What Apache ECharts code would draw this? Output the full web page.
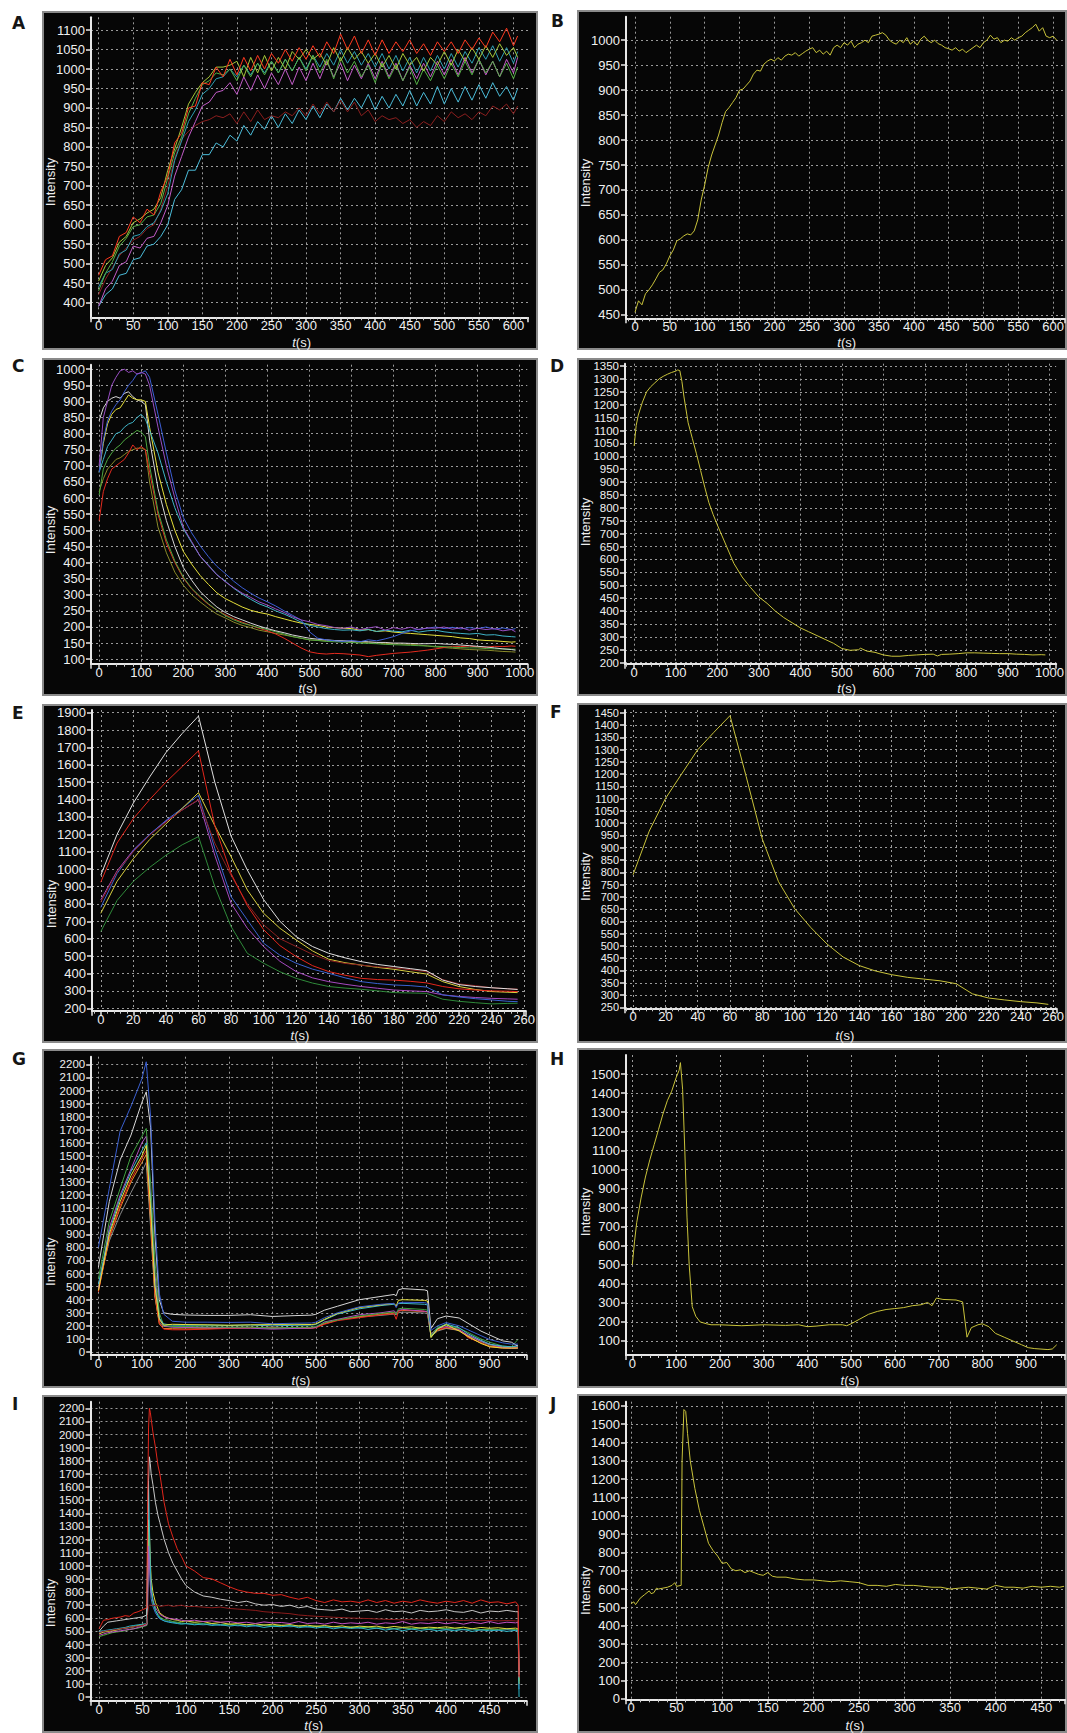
<!DOCTYPE html>
<html>
<head>
<meta charset="utf-8">
<title>Intensity traces A-J</title>
<script src="https://cdn.jsdelivr.net/npm/echarts@6/dist/echarts.min.js"></script>
<style>
  html, body { margin: 0; padding: 0; background: #fff; }
  body { position: relative; width: 1067px; height: 1733px; overflow: hidden; }
  .panel { position: absolute; background: #060606; outline: 2px solid #8a8a8a; outline-offset: -2px; }
  .tag { position: absolute; font: bold 17px "DejaVu Sans", sans-serif; line-height: 17px; color: #151515; }
</style>
</head>
<body>
<div class="tag" style="left:12px;top:15px">A</div>
<div class="tag" style="left:551px;top:13px">B</div>
<div class="tag" style="left:12px;top:358px">C</div>
<div class="tag" style="left:550px;top:358px">D</div>
<div class="tag" style="left:12px;top:705px">E</div>
<div class="tag" style="left:550px;top:704px">F</div>
<div class="tag" style="left:12px;top:1051px">G</div>
<div class="tag" style="left:550px;top:1051px">H</div>
<div class="tag" style="left:12px;top:1396px">I</div>
<div class="tag" style="left:550px;top:1396px">J</div>

<div class="panel" id="pA" style="left:42px;top:11px;width:496px;height:339px"></div>
<div class="panel" id="pB" style="left:577px;top:10px;width:490px;height:340px"></div>
<div class="panel" id="pC" style="left:42px;top:358px;width:496px;height:338px"></div>
<div class="panel" id="pD" style="left:577px;top:358px;width:490px;height:338px"></div>
<div class="panel" id="pE" style="left:42px;top:704px;width:496px;height:339px"></div>
<div class="panel" id="pF" style="left:577px;top:703px;width:490px;height:340px"></div>
<div class="panel" id="pG" style="left:42px;top:1049px;width:496px;height:339px"></div>
<div class="panel" id="pH" style="left:577px;top:1048px;width:490px;height:340px"></div>
<div class="panel" id="pI" style="left:42px;top:1395px;width:496px;height:338px"></div>
<div class="panel" id="pJ" style="left:577px;top:1394px;width:490px;height:339px"></div>

<script>
// ---- panel A: 7 rising traces, t every 10 s
const tA = [0, 10, 20, 30, 40, 50, 60, 70, 80, 90,
  100, 110, 120, 130, 140, 150, 160, 170, 180, 190,
  200, 210, 220, 230, 240, 250, 260, 270, 280, 290,
  300, 310, 320, 330, 340, 350, 360, 370, 380, 390,
  400, 410, 420, 430, 440, 450, 460, 470, 480, 490,
  500, 510, 520, 530, 540, 550, 560, 570, 580, 590,
  600, 606]
const aCyan = [390, 420, 435, 470, 475, 510, 515, 545, 550, 570,
  600, 665, 690, 740, 740, 780, 780, 810, 800, 830,
  815, 855, 830, 865, 845, 880, 850, 885, 860, 895,
  870, 905, 875, 910, 890, 925, 895, 925, 900, 935,
  895, 930, 900, 935, 905, 945, 905, 940, 910, 955,
  910, 950, 915, 955, 920, 960, 925, 965, 930, 955,
  920, 950]
const aMaroon = [420, 460, 490, 520, 540, 560, 570, 590, 600, 640,
  700, 770, 820, 840, 855, 865, 870, 880, 875, 885,
  860, 890, 865, 895, 870, 880, 875, 890, 880, 900,
  880, 910, 885, 915, 890, 920, 890, 915, 880, 895,
  865, 880, 870, 875, 860, 870, 850, 865, 855, 880,
  865, 890, 875, 885, 870, 890, 880, 905, 895, 910,
  885, 905]
const aMagenta = [390, 435, 455, 495, 505, 545, 540, 565, 570, 605,
  650, 725, 775, 825, 865, 905, 915, 940, 945, 965,
  935, 980, 945, 985, 950, 990, 960, 1000, 960, 1005,
  970, 1015, 975, 1020, 980, 1015, 970, 1010, 975, 1015,
  975, 1020, 980, 1015, 970, 1010, 975, 1015, 980, 1020,
  985, 1025, 985, 1030, 990, 1025, 985, 1020, 980, 1025,
  990, 1030]
const aTeal = [440, 475, 485, 525, 535, 570, 575, 595, 605, 635,
  680, 765, 815, 865, 895, 935, 950, 975, 980, 1000,
  980, 1010, 985, 1015, 990, 1020, 990, 1025, 995, 1030,
  1000, 1035, 1005, 1040, 1010, 1050, 1015, 1045, 1010, 1040,
  1005, 1040, 1000, 1035, 995, 1030, 990, 1030, 995, 1035,
  1000, 1040, 1005, 1045, 1015, 1055, 1025, 1060, 1020, 1055,
  1015, 1045]
const aGreen = [430, 475, 505, 545, 565, 595, 600, 620, 625, 655,
  720, 785, 825, 885, 925, 960, 970, 990, 985, 1000,
  970, 1010, 980, 1015, 985, 1020, 990, 1025, 995, 1030,
  995, 1035, 990, 1025, 975, 1030, 990, 1020, 980, 1010,
  965, 1015, 975, 1010, 970, 1005, 960, 1000, 970, 1010,
  975, 1015, 980, 1020, 985, 1025, 990, 1020, 980, 1015,
  975, 1005]
const aLime = [455, 495, 515, 555, 570, 605, 615, 630, 640, 670,
  740, 795, 850, 910, 940, 965, 980, 1005, 1005, 1010,
  1020, 980, 1030, 990, 1035, 995, 1030, 1000, 1045, 1025,
  1050, 1025, 1040, 1010, 1055, 1020, 1055, 1025, 1045, 1015,
  1040, 1005, 1035, 1000, 1040, 1010, 1030, 995, 1030, 1010,
  1045, 1010, 1050, 1020, 1055, 1025, 1060, 1030, 1065, 1035,
  1055, 1030]
const aRed = [470, 510, 520, 570, 580, 620, 605, 640, 625, 685,
  725, 810, 835, 900, 905, 965, 960, 1005, 980, 1025,
  985, 1030, 995, 1035, 1000, 1040, 1015, 1050, 1020, 1055,
  1025, 1060, 1030, 1070, 1040, 1090, 1050, 1085, 1040, 1075,
  1035, 1075, 1040, 1070, 1045, 1075, 1040, 1065, 1035, 1070,
  1045, 1070, 1040, 1075, 1050, 1080, 1055, 1095, 1070, 1105,
  1060, 1085]

// ---- panel B: mean trace, t every 5 s
const tB = [0, 5, 10, 15, 20, 25, 30, 35, 40, 45,
  50, 55, 60, 65, 70, 75, 80, 85, 90, 95,
  100, 105, 110, 115, 120, 125, 130, 135, 140, 145,
  150, 155, 160, 165, 170, 175, 180, 185, 190, 195,
  200, 205, 210, 215, 220, 225, 230, 235, 240, 245,
  250, 255, 260, 265, 270, 275, 280, 285, 290, 295,
  300, 305, 310, 315, 320, 325, 330, 335, 340, 345,
  350, 355, 360, 365, 370, 375, 380, 385, 390, 395,
  400, 405, 410, 415, 420, 425, 430, 435, 440, 445,
  450, 455, 460, 465, 470, 475, 480, 485, 490, 495,
  500, 505, 510, 515, 520, 525, 530, 535, 540, 545,
  550, 555, 560, 565, 570, 575, 580, 585, 590, 595,
  600, 605]
const bMean = [455, 478, 470, 492, 500, 510, 522, 535, 540, 552,
  568, 580, 598, 602, 608, 612, 610, 618, 640, 680,
  710, 745, 770, 790, 810, 835, 857, 865, 875, 885,
  900, 902, 910, 918, 932, 940, 938, 952, 958, 962,
  958, 965, 960, 968, 972, 970, 975, 968, 973, 978,
  982, 985, 975, 980, 972, 978, 970, 985, 990, 985,
  995, 990, 998, 985, 992, 995, 1000, 995, 1008, 1010,
  1012, 1015, 1010, 1000, 995, 992, 1000, 995, 1005, 992,
  998, 990, 1002, 1008, 1000, 995, 1000, 993, 990, 985,
  983, 980, 985, 978, 982, 975, 980, 985, 990, 985,
  995, 1000, 1010, 1002, 1005, 995, 1000, 998, 1005, 1000,
  1005, 1008, 1015, 1020, 1025, 1032, 1018, 1025, 1008, 1005,
  1008, 1000]

// ---- panel C: 8 decaying traces
const tC = [0, 10, 20, 30, 40, 50, 60, 70, 80, 90, 100, 110, 120,
  140, 160, 180, 200, 220, 240, 260, 280, 300, 320,
  340, 360, 380, 400, 420, 440, 460, 480, 500, 520,
  540, 560, 580, 600, 620, 640, 660, 680, 700, 720,
  740, 760, 780, 800, 820, 840, 860, 880, 900, 920,
  940, 960, 980, 990]
const cOlive = [620, 660, 690, 705, 720, 725, 735, 745, 750, 755, 755, 750, 650,
  510, 430, 370, 330, 300, 278, 258, 240, 228, 215,
  205, 198, 190, 185, 180, 175, 170, 165, 160, 158,
  157, 156, 155, 153, 152, 151, 150, 149, 148, 147,
  146, 144, 141, 138, 136, 134, 132, 130, 129, 128,
  126, 124, 123, 122]
const cRed = [530, 620, 660, 690, 700, 710, 720, 740, 765, 750, 760, 750, 680,
  550, 460, 400, 352, 318, 292, 270, 252, 238, 225,
  215, 205, 196, 188, 178, 165, 150, 135, 123, 118,
  116, 118, 117, 115, 113, 108, 112, 115, 118, 120,
  122, 125, 128, 132, 136, 140, 139, 141, 138, 137,
  140, 139, 141, 140]
const cGreen = [610, 690, 720, 740, 755, 765, 780, 790, 800, 810, 805, 790, 700,
  560, 470, 405, 355, 320, 295, 272, 252, 235, 222,
  212, 205, 198, 192, 185, 178, 170, 165, 160, 158,
  155, 154, 153, 152, 150, 149, 148, 146, 145, 144,
  143, 142, 141, 140, 139, 137, 136, 135, 135, 133,
  132, 132, 131, 131]
const cWhite = [840, 880, 900, 910, 915, 910, 925, 930, 915, 905, 900, 890, 780,
  630, 530, 450, 385, 345, 310, 285, 262, 245, 232,
  222, 212, 203, 195, 188, 182, 175, 170, 165, 162,
  160, 158, 157, 156, 155, 154, 152, 152, 150, 150,
  149, 148, 148, 149, 147, 146, 144, 142, 140, 138,
  135, 132, 130, 128]
const cYellow = [680, 770, 830, 860, 875, 880, 900, 920, 910, 905, 905, 900, 820,
  680, 580, 500, 435, 395, 360, 332, 306, 288, 275,
  262, 252, 245, 240, 232, 225, 218, 212, 208, 205,
  200, 198, 196, 195, 190, 192, 186, 188, 184, 182,
  180, 178, 176, 174, 172, 170, 166, 164, 160, 158,
  157, 155, 153, 154]
const cCyan = [680, 720, 760, 780, 800, 805, 820, 830, 835, 850, 860, 845, 810,
  740, 650, 570, 505, 462, 420, 392, 362, 342, 320,
  302, 286, 272, 262, 250, 240, 228, 215, 205, 200,
  195, 192, 190, 191, 188, 192, 186, 190, 187, 185,
  190, 184, 188, 190, 185, 182, 180, 178, 180, 175,
  176, 172, 170, 169]
const cBlue = [680, 780, 840, 870, 890, 905, 930, 950, 965, 985, 988, 995, 975,
  860, 740, 625, 540, 492, 452, 418, 388, 366, 342,
  322, 305, 290, 278, 265, 250, 236, 222, 185, 165,
  160, 157, 155, 158, 154, 160, 157, 163, 170, 180,
  188, 193, 196, 200, 195, 199, 194, 198, 195, 200,
  193, 197, 192, 195]
const cViolet = [700, 850, 900, 950, 975, 995, 1000, 990, 995, 985, 990, 985, 950,
  820, 700, 600, 510, 465, 420, 390, 362, 340, 322,
  305, 292, 278, 268, 256, 245, 232, 222, 216, 208,
  204, 198, 196, 200, 192, 197, 201, 190, 198, 193,
  199, 192, 197, 196, 200, 193, 198, 190, 196, 192,
  195, 188, 192, 185]

// ---- panel D: mean trace
const tD = [0, 5, 10, 20, 30, 40, 50, 60, 70, 80, 90, 100, 105, 110, 115, 120,
  130, 140, 150, 160, 170, 180, 190, 200,
  220, 240, 260, 280, 300, 320, 340, 360, 380, 400, 420, 440, 460, 480, 500,
  520, 540, 545, 560, 580, 600, 620, 640, 660, 680, 700, 720, 730,
  740, 760, 780, 800, 820, 840, 860, 880, 900, 920, 940, 960, 980, 990]
const dMean = [1040, 1120, 1160, 1210, 1250, 1270, 1285, 1300, 1310, 1318, 1325, 1330, 1335, 1332, 1290, 1230,
  1130, 1070, 1010, 945, 880, 820, 775, 735,
  660, 585, 532, 492, 455, 430, 400, 375, 355, 335, 320, 305, 290, 275, 255,
  248, 250, 256, 245, 240, 230, 225, 225, 228, 230, 232, 233, 226,
  232, 233, 235, 238, 238, 237, 236, 235, 235, 233, 232, 230, 231, 230]

// ---- panel E: 7 traces, t every 10 s
const tE = [0, 10, 20, 30, 40, 50, 60, 70, 80, 90, 100, 110, 120, 130, 140,
  150, 160, 170, 180, 190, 200, 210, 220, 230, 240, 250, 256]
const eGreen = [641, 820, 930, 1010, 1080, 1140, 1187, 900, 670, 516, 459, 410, 372, 345, 325,
  316, 309, 300, 290, 288, 286, 252, 240, 232, 225, 228, 229]
const ePurple = [823, 990, 1110, 1200, 1275, 1340, 1398, 1080, 804, 660, 555, 470, 411, 375, 353,
  338, 325, 315, 305, 300, 296, 277, 268, 262, 257, 254, 252]
const eBlue = [780, 975, 1105, 1200, 1280, 1350, 1425, 1120, 842, 708, 574, 505, 459, 425, 401,
  375, 353, 342, 334, 330, 322, 277, 265, 255, 248, 240, 238]
const eYellow = [746, 930, 1060, 1170, 1260, 1350, 1440, 1250, 1072, 880, 746, 660, 593, 530, 482,
  462, 448, 435, 424, 410, 397, 353, 325, 308, 296, 292, 290]
const eMaroon = [810, 985, 1100, 1195, 1270, 1340, 1400, 1150, 965, 800, 680, 600, 555, 510, 475,
  458, 448, 438, 432, 422, 410, 365, 340, 330, 318, 312, 310]
const eRed = [925, 1150, 1290, 1400, 1500, 1590, 1680, 1250, 975, 790, 652, 560, 497, 445, 411,
  390, 372, 365, 362, 355, 346, 325, 312, 305, 300, 298, 296]
const eWhite = [965, 1200, 1380, 1530, 1670, 1780, 1880, 1500, 1190, 995, 825, 700, 612, 555, 516,
  490, 468, 452, 440, 428, 416, 362, 336, 325, 318, 312, 308]

// ---- panel F: mean trace
const tF = [0, 10, 20, 30, 40, 50, 60, 70, 80, 90, 100, 110, 120, 130, 140,
  150, 160, 170, 180, 190, 200, 210, 220, 230, 240, 250, 257]
const fMean = [790, 968, 1100, 1200, 1299, 1370, 1438, 1190, 935, 762, 652, 575, 508, 455, 420,
  398, 383, 372, 365, 358, 346, 305, 288, 280, 273, 268, 262]

// ---- panel G: 9 traces
const tG = [0, 25, 50, 75, 100, 110, 120, 130, 140, 150,
  170, 200, 250, 300, 350, 400, 450, 490,
  500, 520, 550, 600, 650, 680,
  685, 690, 700, 750, 757,
  765, 780, 800, 830, 850, 880, 900, 930, 950, 965]
const gGray = [500, 850, 1050, 1220, 1380, 1450, 950, 420, 230, 195,
  192, 190, 188, 188, 190, 180, 185, 186,
  190, 220, 245, 268, 280, 290,
  285, 300, 305, 298, 292,
  120, 160, 180, 165, 125, 80, 55, 40, 40, 50]
const gOrange = [470, 870, 1100, 1300, 1450, 1510, 1000, 430, 215, 180,
  178, 176, 178, 182, 185, 188, 186, 184,
  188, 215, 245, 270, 290, 300,
  295, 315, 318, 310, 305,
  125, 165, 185, 165, 115, 70, 45, 35, 30, 32]
const gRed = [460, 880, 1120, 1320, 1480, 1540, 1050, 450, 220, 175,
  170, 170, 175, 180, 185, 190, 185, 182,
  185, 212, 240, 262, 285, 292,
  250, 310, 322, 312, 305,
  130, 170, 190, 175, 110, 70, 40, 30, 28, 35]
const gPurple = [480, 950, 1200, 1400, 1600, 1650, 1200, 600, 260, 200,
  190, 188, 185, 185, 182, 175, 180, 182,
  188, 230, 250, 285, 300, 315,
  300, 320, 325, 312, 308,
  140, 180, 195, 170, 130, 85, 60, 35, 30, 30]
const gGreen = [560, 1000, 1250, 1500, 1650, 1710, 1300, 700, 300, 205,
  195, 195, 192, 190, 190, 185, 188, 190,
  195, 225, 245, 275, 295, 305,
  290, 330, 335, 325, 320,
  130, 190, 205, 180, 150, 100, 75, 45, 40, 95]
const gCyan = [520, 920, 1180, 1380, 1540, 1600, 1150, 520, 260, 215,
  205, 205, 205, 203, 206, 200, 204, 206,
  210, 245, 290, 330, 355, 365,
  355, 370, 372, 365, 360,
  115, 180, 215, 185, 140, 90, 60, 45, 40, 45]
const gYellow = [470, 900, 1150, 1350, 1500, 1580, 1100, 500, 250, 205,
  212, 210, 208, 205, 208, 210, 212, 210,
  215, 250, 295, 340, 360, 372,
  350, 395, 400, 395, 390,
  110, 175, 210, 160, 120, 65, 40, 30, 30, 30]
const gWhite = [650, 1150, 1470, 1660, 1910, 1990, 1720, 900, 400, 300,
  288, 283, 280, 280, 285, 272, 278, 282,
  288, 320, 350, 400, 425, 440,
  430, 475, 485, 475, 468,
  180, 255, 275, 260, 220, 160, 130, 85, 75, 45]
const gBlue = [800, 1250, 1690, 1880, 2090, 2220, 1800, 1000, 450, 290,
  235, 228, 228, 226, 228, 216, 220, 222,
  228, 262, 300, 345, 365, 372,
  340, 375, 380, 378, 372,
  165, 200, 225, 200, 170, 125, 95, 70, 60, 60]

// ---- panel H: mean trace
const tH = [0, 5, 10, 20, 30, 40, 50, 60, 70, 80, 90, 100,
  107, 110, 115, 120, 125, 130, 137, 145, 155, 170, 180, 200,
  250, 300, 350, 380, 400, 420, 450, 480, 490,
  500, 520, 540, 560, 580, 600, 620, 640, 660,
  675, 685, 695, 710, 740, 755,
  765, 775, 790, 800, 815, 830, 850, 870, 890, 905, 920, 950, 960, 970]
const hMean = [500, 620, 720, 850, 960, 1050, 1130, 1210, 1290, 1360, 1410, 1480,
  1520, 1560, 1420, 1100, 750, 500, 280, 230, 200, 190, 185, 185,
  180, 185, 182, 185, 175, 178, 185, 185, 180,
  190, 215, 240, 255, 265, 270, 275, 285, 290,
  302, 285, 325, 318, 315, 305,
  120, 170, 185, 190, 175, 140, 120, 100, 80, 65, 60, 55, 58, 80]

// ---- panel I: 8 traces with a sharp spike
const tI = [0, 5, 10, 15, 20, 25, 30, 35, 40, 45, 50, 55,
  56, 57, 58, 59, 60,
  62, 65, 68, 70, 75, 80, 85, 90, 95, 100,
  110, 120, 130, 140, 150, 160, 170, 180, 190, 200,
  210, 220, 230, 240, 250, 260, 270, 280, 290, 300,
  310, 320, 330, 340, 350, 360, 370, 380, 390, 400,
  410, 420, 430, 440, 450, 460, 470, 480,
  483, 484]
const iBlue = [490, 495, 505, 510, 512, 518, 522, 528, 535, 540, 548, 552,
  800, 1100, 1000, 850, 750,
  690, 640, 610, 595, 580, 575, 570, 565, 560, 558,
  555, 550, 555, 545, 550, 542, 548, 540, 545, 538,
  542, 535, 540, 532, 538, 530, 535, 528, 532, 525,
  530, 522, 528, 520, 526, 518, 524, 516, 522, 515,
  520, 512, 518, 510, 516, 508, 514, 510,
  505, 60]
const iGreen = [460, 470, 480, 490, 495, 500, 505, 515, 520, 525, 535, 545,
  850, 1200, 1100, 950, 820,
  720, 660, 630, 610, 590, 585, 575, 570, 565, 560,
  565, 555, 560, 550, 555, 548, 552, 545, 550, 542,
  548, 540, 545, 535, 542, 532, 538, 530, 535, 528,
  532, 525, 530, 522, 528, 520, 526, 518, 524, 520,
  522, 515, 520, 512, 518, 514, 520, 515,
  512, 120]
const iYellow = [480, 495, 500, 505, 510, 520, 525, 530, 535, 545, 550, 555,
  900, 1350, 1250, 1050, 900,
  800, 720, 670, 640, 615, 600, 590, 585, 575, 580,
  570, 575, 560, 568, 555, 560, 550, 558, 548, 555,
  545, 552, 540, 548, 538, 545, 535, 542, 530, 540,
  535, 540, 528, 538, 530, 535, 525, 532, 528, 535,
  525, 532, 520, 530, 524, 528, 520, 525,
  520, 100]
const iMagenta = [470, 480, 490, 495, 500, 505, 510, 515, 520, 530, 540, 550,
  700, 1150, 1050, 900, 800,
  740, 680, 650, 630, 610, 600, 595, 590, 585, 580,
  585, 575, 580, 570, 575, 565, 570, 560, 572, 565,
  568, 560, 575, 560, 565, 555, 570, 558, 565, 560,
  570, 555, 565, 560, 575, 555, 565, 560, 570, 558,
  568, 555, 570, 560, 575, 560, 570, 565,
  570, 150]
const iCyan = [500, 505, 510, 515, 520, 525, 530, 540, 545, 550, 555, 560,
  1100, 1650, 1300, 1000, 850,
  740, 660, 620, 600, 580, 570, 565, 560, 555, 560,
  550, 558, 545, 552, 540, 548, 535, 545, 530, 540,
  535, 545, 528, 538, 525, 535, 520, 530, 522, 528,
  515, 525, 510, 520, 505, 518, 508, 515, 505, 512,
  505, 515, 500, 512, 505, 510, 500, 508,
  500, 0]
const iMaroon = [490, 500, 505, 510, 515, 520, 525, 530, 535, 540, 545, 560,
  640, 690, 700, 700, 698,
  700, 695, 700, 690, 695, 700, 690, 695, 700, 690,
  690, 685, 680, 685, 675, 670, 665, 660, 650, 645,
  640, 635, 625, 620, 615, 612, 608, 605, 602, 600,
  598, 595, 592, 590, 588, 590, 586, 588, 585, 587,
  585, 583, 586, 582, 584, 580, 583, 580,
  578, 160]
const iWhite = [500, 540, 570, 575, 580, 585, 590, 595, 600, 605, 610, 625,
  1200, 1650, 1830, 1780, 1700,
  1620, 1480, 1380, 1330, 1200, 1100, 1020, 960, 900, 850,
  800, 770, 760, 745, 735, 720, 730, 710, 700, 705,
  690, 700, 680, 690, 670, 665, 660, 670, 650, 655,
  660, 645, 665, 650, 655, 640, 660, 650, 655, 665,
  650, 645, 660, 640, 655, 650, 660, 650,
  650, 170]
const iRed = [520, 585, 590, 600, 605, 610, 620, 615, 640, 650, 665, 680,
  1500, 2050, 2200, 2170, 2120,
  2020, 1900, 1760, 1700, 1480, 1320, 1220, 1130, 1070, 1000,
  960, 910, 900, 870, 840, 815, 800, 790, 790, 775,
  780, 760, 745, 760, 735, 720, 740, 725, 730, 720,
  740, 720, 735, 715, 730, 720, 740, 725, 715, 730,
  720, 735, 715, 740, 720, 725, 710, 725,
  700, 150]

// ---- panel J: mean trace
const tJ = [0, 3, 5, 10, 15, 20,
  22, 25, 28, 30, 35, 40, 45, 48, 50, 55, 56, 58, 60, 62, 65,
  70, 75, 80, 85, 90, 95, 100, 105, 110, 115, 120, 125, 130, 135, 140, 145, 150, 155, 160,
  170, 180, 190, 200, 210, 220, 230, 240, 250, 260,
  270, 280, 290, 300, 310, 320, 330, 340, 350, 360,
  370, 380, 390, 400, 410, 420, 430, 440, 450, 460,
  470, 475]
const jMean = [520, 530, 515, 550, 570, 590,
  575, 580, 605, 600, 605, 610, 620, 635, 615, 620, 1300, 1580, 1570, 1450, 1300,
  1150, 1030, 940, 850, 810, 780, 740, 745, 710, 700, 705, 690, 700, 690, 680, 675, 690, 670, 665,
  665, 655, 650, 650, 645, 640, 645, 640, 635, 620,
  620, 615, 625, 620, 620, 615, 610, 610, 600, 605,
  610, 605, 600, 620, 610, 610, 605, 615, 610, 615,
  610, 615]

const YEL = '#c9c33b'
const FONT = 'Liberation Sans'

// x/y ranges are [min, max, step]; grid is [left, top, width, height] inside each black box
const panels = [
  { id: 'pA', grid: [49, 6.3, 437, 300], x: [-11, 621, 50], y: [362, 1133, 50], yFont: 13, yName: [8.7, 171], tName: [259.6, 331],
    lines: [[tA, aCyan, '#4bbcd9'], [tA, aMaroon, '#8c1f1f'], [tA, aMagenta, '#c25cc8'], [tA, aTeal, '#2e9fb3'],
      [tA, aGreen, '#55b046'], [tA, aLime, '#a6c83a'], [tA, aRed, '#ff3a20']] },
  { id: 'pB', grid: [49, 6.7, 438.3, 301.6], x: [-12.9, 616, 50], y: [443, 1047, 50], yFont: 13, yName: [8.7, 173], tName: [269.7, 332],
    lines: [[tB, bMean, YEL]] },
  { id: 'pC', grid: [49, 6.7, 436.3, 299], x: [-19.3, 1018, 100], y: [86, 1014, 50], yFont: 13, yName: [8.7, 172], tName: [265.8, 330],
    lines: [[tC, cOlive, '#8a8a2a'], [tC, cRed, '#e52b1f'], [tC, cGreen, '#4da63f'], [tC, cWhite, '#d8d8d8'],
      [tC, cYellow, '#e6e03a'], [tC, cCyan, '#3fb3c6'], [tC, cBlue, '#3d5fd6'], [tC, cViolet, '#9a4fc4']] },
  { id: 'pD', grid: [48, 5.7, 438.3, 300], x: [-22, 1016, 100], y: [196, 1359, 50], yFont: 11.5, yName: [8.7, 164], tName: [269.7, 330],
    lines: [[tD, dMean, YEL]] },
  { id: 'pE', grid: [50, 6, 436, 300.7], x: [-5.4, 261, 20], y: [186, 1915, 100], yFont: 13, yName: [9.7, 200], tName: [257.9, 331],
    lines: [[tE, eGreen, '#2f8a3a'], [tE, ePurple, '#a64ac0'], [tE, eBlue, '#3a62d0'], [tE, eYellow, '#d9d040'],
      [tE, eMaroon, '#8b2020'], [tE, eRed, '#e3261c'], [tE, eWhite, '#e0e0e0']] },
  { id: 'pF', grid: [48, 7, 438, 298.3], x: [-5, 262, 20], y: [246, 1461, 50], yFont: 11, yName: [8.5, 173.7], tName: [268, 332],
    lines: [[tF, fMean, YEL]] },
  { id: 'pG', grid: [49.2, 7.7, 435.4, 298.3], x: [-16.6, 985, 100], y: [-23, 2259, 100], yFont: 11.5, yName: [8.7, 212.7], tName: [258.9, 331],
    lines: [[tG, gGray, '#8a8a8a'], [tG, gOrange, '#f08a24'], [tG, gRed, '#e8281e'], [tG, gPurple, '#b050c0'],
      [tG, gGreen, '#40a040'], [tG, gCyan, '#3fb8c8'], [tG, gYellow, '#e8e23a'], [tG, gWhite, '#d6d6d6'], [tG, gBlue, '#3a5fd0']] },
  { id: 'pH', grid: [49, 7, 439, 300], x: [-14.4, 989, 100], y: [26.5, 1600, 100], yFont: 13, yName: [8.7, 164], tName: [273, 332],
    lines: [[tH, hMean, YEL]] },
  { id: 'pI', grid: [48.5, 6.7, 436.1, 299], x: [-9.9, 492.7, 50], y: [-28, 2250, 100], yFont: 11.5, yName: [8.7, 208], tName: [271.7, 330],
    lines: [[tI, iBlue, '#3a70c8'], [tI, iGreen, '#4caf3c'], [tI, iYellow, '#e0d83a'], [tI, iMagenta, '#c050c0'],
      [tI, iCyan, '#2ab5c5'], [tI, iMaroon, '#8b1c1c'], [tI, iWhite, '#c8c8c8'], [tI, iRed, '#e2261c']] },
  { id: 'pJ', grid: [49, 7.7, 439, 297.6], x: [-5.5, 476, 50], y: [-2, 1623, 100], yFont: 13, yName: [8.7, 196.7], tName: [278, 331],
    lines: [[tJ, jMean, YEL]] }
]

function pairs(t, v) {
  return t.map((x, i) => [x, v[i]])
}

function axis(range, isX, fontSize) {
  return {
    type: 'value',
    min: range[0],
    max: range[1],
    minInterval: range[2],
    maxInterval: range[2],
    axisLine: { show: true, onZero: false, lineStyle: { color: '#e8e8e8', width: 2 } },
    axisTick: { show: true, length: 5, lineStyle: { color: '#e8e8e8', width: 1.5 } },
    minorTick: { show: isX, splitNumber: 5, length: 3, lineStyle: { color: '#cfcfcf', width: 1 } },
    axisLabel: {
      color: '#f0f0f0', fontSize: fontSize, fontFamily: FONT, lineHeight: fontSize,
      margin: isX ? 2 : 6,
      showMinLabel: false, showMaxLabel: false,
      formatter: v => String(v)
    },
    splitLine: {
      show: true, showMinLine: false, showMaxLine: false,
      lineStyle: { color: '#9a9a9a', width: 1, type: [2, 3] }
    }
  }
}

function makeOption(p) {
  return {
    animation: false,
    grid: { left: p.grid[0], top: p.grid[1], width: p.grid[2], height: p.grid[3] },
    xAxis: axis(p.x, true, 13),
    yAxis: axis(p.y, false, p.yFont),
    graphic: [
      {
        type: 'text', x: p.yName[0], y: p.yName[1], rotation: Math.PI / 2,
        style: { text: 'Intensity', fill: '#eeeeee', fontSize: 13, fontFamily: FONT,
          align: 'center', verticalAlign: 'middle', textAlign: 'center', textVerticalAlign: 'middle' }
      },
      {
        type: 'text', x: p.tName[0], y: p.tName[1],
        style: { text: '{i|t}(s)', fill: '#eeeeee', fontSize: 13, fontFamily: FONT, lineHeight: 13,
          align: 'center', verticalAlign: 'middle', textAlign: 'center', textVerticalAlign: 'middle',
          rich: { i: { fontStyle: 'italic', fill: '#eeeeee', fontSize: 13, fontFamily: FONT, lineHeight: 13 } } }
      }
    ],
    series: p.lines.map(l => ({
      type: 'line',
      data: pairs(l[0], l[1]),
      symbol: 'none',
      silent: true,
      lineStyle: { color: l[2], width: 1 }
    }))
  }
}

panels.forEach(p => {
  const chart = echarts.init(document.getElementById(p.id), null, { renderer: 'svg' })
  chart.setOption(makeOption(p))
})
</script>
</body>
</html>
